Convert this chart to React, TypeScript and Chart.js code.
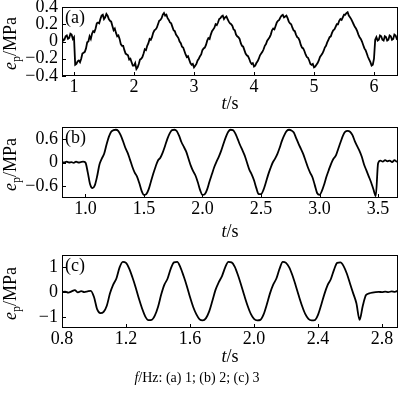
import React, { useEffect, useRef } from "react";
import { Chart, registerables } from "chart.js";
Chart.register(...registerables);

const FONT = '"Liberation Serif", "Times New Roman", serif';

// ---------- Panel (a): f = 1 Hz ----------
const A_START = 0.8;
const A_STEP = 0.02;
const A_VALUES = [
  0.05, 0.01, 0.02, 0.06, 0.07, 0.03, 0.04, 0.09, 0.08, 0.03,
  0.05, -0.27, -0.26, -0.23, -0.22, -0.24, -0.2, -0.14, -0.13, -0.12,
  -0.08, -0.01, 0.0, 0.06, 0.03, 0.09, 0.12, 0.11, 0.15, 0.21,
  0.22, 0.21, 0.26, 0.3, 0.31, 0.26, 0.28, 0.32, 0.3, 0.26,
  0.24, 0.23, 0.18, 0.13, 0.15, 0.1, 0.06, 0.07, 0.03, -0.03,
  -0.05, -0.05, -0.1, -0.14, -0.15, -0.16, -0.21, -0.2, -0.24, -0.28,
  -0.28, -0.25, -0.32, -0.3, -0.26, -0.21, -0.2, -0.18, -0.14, -0.09,
  -0.1, -0.05, -0.02, 0.03, 0.02, 0.05, 0.1, 0.13, 0.14, 0.16,
  0.2, 0.24, 0.25, 0.27, 0.31, 0.33, 0.3, 0.31, 0.27, 0.25,
  0.22, 0.21, 0.17, 0.13, 0.12, 0.08, 0.06, 0.04, 0.0, -0.02,
  -0.06, -0.07, -0.11, -0.15, -0.18, -0.17, -0.21, -0.25, -0.27, -0.26,
  -0.3, -0.28, -0.26, -0.22, -0.2, -0.17, -0.15, -0.1, -0.08, -0.07,
  -0.04, 0.01, 0.04, 0.03, 0.08, 0.12, 0.14, 0.16, 0.2, 0.19,
  0.22, 0.26, 0.27, 0.29, 0.3, 0.26, 0.28, 0.29, 0.26, 0.23,
  0.21, 0.2, 0.18, 0.14, 0.13, 0.08, 0.06, 0.05, 0.03, -0.02,
  -0.05, -0.06, -0.1, -0.14, -0.16, -0.17, -0.2, -0.24, -0.26, -0.25,
  -0.29, -0.28, -0.25, -0.23, -0.2, -0.16, -0.14, -0.12, -0.09, -0.05,
  -0.03, 0.01, 0.03, 0.05, 0.08, 0.13, 0.15, 0.14, 0.18, 0.22,
  0.24, 0.25, 0.28, 0.3, 0.31, 0.28, 0.29, 0.3, 0.27, 0.23,
  0.21, 0.2, 0.16, 0.13, 0.12, 0.08, 0.05, 0.04, 0.01, -0.04,
  -0.07, -0.08, -0.11, -0.15, -0.18, -0.19, -0.22, -0.26, -0.27, -0.26,
  -0.3, -0.29, -0.27, -0.25, -0.22, -0.18, -0.16, -0.14, -0.11, -0.07,
  -0.05, -0.01, 0.02, 0.05, 0.06, 0.1, 0.13, 0.14, 0.17, 0.2,
  0.2, 0.24, 0.26, 0.25, 0.28, 0.31, 0.31, 0.33, 0.34, 0.3,
  0.28, 0.26, 0.23, 0.2, 0.17, 0.15, 0.12, 0.08, 0.05, 0.03,
  0.0, -0.04, -0.08, -0.1, -0.14, -0.18, -0.21, -0.24, -0.28, -0.27,
  -0.2, 0.02, 0.05, 0.01, 0.02, 0.07, 0.06, 0.02, 0.01, 0.06,
  0.05, 0.01, 0.02, 0.07, 0.06, 0.02, 0.03, 0.08, 0.07, 0.03,
  0.04,
];
const A_X_TICKS = [1, 2, 3, 4, 5, 6];
const A_X_LABELS = ["1", "2", "3", "4", "5", "6"];
const A_Y_TICKS = [-0.4, -0.2, 0, 0.2, 0.4];
const A_Y_LABELS = ["\u22120.4", "\u22120.2", "0", "0.2", "0.4"];

// ---------- Panel (b): f = 2 Hz ----------
const B_START = 0.8;
const B_STEP = 0.02;
const B_VALUES = [
  0.01, 0.0, 0.02, 0.0, 0.01, -0.01, 0.02, 0.0, 0.01, 0.02,
  0.0, -0.25, -0.55, -0.65, -0.58, -0.35, -0.05, 0.1, 0.22, 0.45,
  0.65, 0.78, 0.82, 0.83, 0.8, 0.7, 0.55, 0.38, 0.25, 0.08,
  -0.1, -0.25, -0.35, -0.52, -0.72, -0.82, -0.8, -0.68, -0.48, -0.28,
  -0.1, 0.05, 0.12, 0.25, 0.42, 0.6, 0.74, 0.82, 0.83, 0.8,
  0.68, 0.52, 0.4, 0.28, 0.1, -0.08, -0.22, -0.33, -0.5, -0.7,
  -0.82, -0.8, -0.68, -0.48, -0.3, -0.12, 0.02, 0.15, 0.3, 0.48,
  0.65, 0.78, 0.83, 0.82, 0.74, 0.6, 0.45, 0.32, 0.18, 0.0,
  -0.18, -0.3, -0.45, -0.65, -0.8, -0.8, -0.7, -0.52, -0.32, -0.15,
  0.0, 0.1, 0.22, 0.38, 0.56, 0.7, 0.8, 0.83, 0.81, 0.76,
  0.62, 0.48, 0.35, 0.22, 0.05, -0.12, -0.26, -0.38, -0.58, -0.78,
  -0.82, -0.72, -0.55, -0.35, -0.18, -0.02, 0.1, 0.18, 0.35, 0.52,
  0.68, 0.78, 0.8, 0.78, 0.7, 0.55, 0.42, 0.3, 0.15, -0.05,
  -0.2, -0.35, -0.5, -0.68, -0.85, -0.02, 0.05, 0.02, 0.06, 0.03,
  0.05, 0.01, 0.06, 0.02, 0.05, 0.03,
];
const B_X_TICKS = [1.0, 1.5, 2.0, 2.5, 3.0, 3.5];
const B_X_LABELS = ["1.0", "1.5", "2.0", "2.5", "3.0", "3.5"];
const B_Y_TICKS = [-0.6, 0, 0.6];
const B_Y_LABELS = ["\u22120.6", "0", "0.6"];

// ---------- Panel (c): f = 3 Hz ----------
const C_START = 0.8;
const C_STEP = 0.02;
const C_VALUES = [
  0.0, 0.02, -0.02, 0.03, 0.08, -0.01, 0.04, 0.0, 0.03, 0.05,
  -0.2, -0.7, -0.85, -0.8, -0.55, -0.05, 0.3, 0.55, 1.0, 1.22,
  1.18, 0.95, 0.6, 0.2, -0.25, -0.65, -0.98, -1.13, -1.12, -0.95,
  -0.6, -0.1, 0.3, 0.55, 0.95, 1.2, 1.22, 1.0, 0.65, 0.25,
  -0.2, -0.6, -0.9, -1.1, -1.14, -1.05, -0.78, -0.35, 0.1, 0.4,
  0.65, 1.0, 1.22, 1.2, 1.02, 0.68, 0.28, -0.15, -0.55, -0.88,
  -1.08, -1.14, -1.12, -0.9, -0.5, -0.05, 0.3, 0.55, 0.95, 1.22,
  1.18, 1.0, 0.68, 0.28, -0.15, -0.55, -0.88, -1.08, -1.14, -1.13,
  -0.92, -0.52, -0.08, 0.28, 0.52, 0.9, 1.18, 1.2, 1.05, 0.75,
  0.35, -0.05, -0.45, -1.12, -0.55, -0.12, -0.05, -0.02, 0.0, 0.01,
  0.0, 0.02, 0.0, 0.03, 0.01, 0.06,
];
const C_X_TICKS = [0.8, 1.2, 1.6, 2.0, 2.4, 2.8];
const C_X_LABELS = ["0.8", "1.2", "1.6", "2.0", "2.4", "2.8"];
const C_Y_TICKS = [-1, 0, 1];
const C_Y_LABELS = ["\u22121", "0", "1"];

const CAPTION_VAR = "f";
const CAPTION_REST = "/Hz: (a) 1; (b) 2; (c) 3";

type PanelProps = {
  top: number;
  height: number;
  plotTop: number;
  plotBottom: number;
  start: number;
  step: number;
  values: number[];
  xMin: number;
  xMax: number;
  yMin: number;
  yMax: number;
  xTicks: number[];
  xLabels: string[];
  yTicks: number[];
  yLabels: string[];
  tag: string;
  xTitleGap: number;
  smooth: boolean;
  caption?: boolean;
};

function Panel(p: PanelProps) {
  const ref = useRef<HTMLCanvasElement>(null);
  useEffect(() => {
    const data = p.values.map((v, i) => ({ x: p.start + i * p.step, y: v }));
    const deco = {
      id: "deco",
      afterDraw(chart: any) {
        const { ctx, chartArea: a, scales } = chart;
        ctx.save();
        ctx.strokeStyle = "#000";
        ctx.lineWidth = 1;
        ctx.strokeRect(a.left + 0.5, a.top + 0.5, a.right - a.left - 1, a.bottom - a.top - 1);
        ctx.beginPath();
        p.xTicks.forEach((v) => {
          const px = Math.round(scales.x.getPixelForValue(v)) + 0.5;
          ctx.moveTo(px, a.bottom);
          ctx.lineTo(px, a.bottom - 4);
        });
        p.yTicks.forEach((v) => {
          const py = Math.round(scales.y.getPixelForValue(v)) + 0.5;
          ctx.moveTo(a.left, py);
          ctx.lineTo(a.left + 4, py);
        });
        ctx.stroke();
        ctx.fillStyle = "#000";
        // panel tag
        ctx.font = `18px ${FONT}`;
        ctx.textBaseline = "top";
        ctx.textAlign = "left";
        ctx.fillText(p.tag, a.left + 3, a.top + 2);
        // y title: e_p/MPa
        ctx.textBaseline = "alphabetic";
        const f1 = `italic 18px ${FONT}`;
        const f2 = `12px ${FONT}`;
        const f3 = `18px ${FONT}`;
        ctx.font = f1;
        const w1 = ctx.measureText("e").width;
        ctx.font = f2;
        const w2 = ctx.measureText("p").width;
        ctx.font = f3;
        const w3 = ctx.measureText("/MPa").width;
        const tot = w1 + w2 + w3;
        ctx.save();
        ctx.translate(16, (a.top + a.bottom) / 2 + 2);
        ctx.rotate(-Math.PI / 2);
        let x = -tot / 2;
        ctx.font = f1;
        ctx.fillText("e", x, 0);
        x += w1;
        ctx.font = f2;
        ctx.fillText("p", x, 4);
        x += w2;
        ctx.font = f3;
        ctx.fillText("/MPa", x, 0);
        ctx.restore();
        // x title: t/s
        ctx.font = f1;
        const tw1 = ctx.measureText("t").width;
        ctx.font = f3;
        const tw2 = ctx.measureText("/s").width;
        const cx = (a.left + a.right) / 2 - (tw1 + tw2) / 2;
        const by = a.bottom + p.xTitleGap;
        ctx.font = f1;
        ctx.fillText("t", cx, by);
        ctx.font = f3;
        ctx.fillText("/s", cx + tw1, by);
        if (p.caption) {
          const g1 = `italic 14px ${FONT}`;
          const g2 = `14px ${FONT}`;
          ctx.font = g1;
          const cw1 = ctx.measureText(CAPTION_VAR).width;
          ctx.font = g2;
          const cw2 = ctx.measureText(CAPTION_REST).width;
          const sx = 197 - (cw1 + cw2) / 2;
          ctx.font = g1;
          ctx.fillText(CAPTION_VAR, sx, 137);
          ctx.font = g2;
          ctx.fillText(CAPTION_REST, sx + cw1, 137);
        }
        ctx.restore();
      },
    };
    const chart = new Chart(ref.current as HTMLCanvasElement, {
      type: "line",
      data: {
        datasets: [
          {
            data,
            borderColor: "#000",
            borderWidth: 1.8,
            pointRadius: 0,
            fill: false,
            tension: p.smooth ? 0.4 : 0,
            cubicInterpolationMode: p.smooth ? "monotone" : "default",
          } as any,
        ],
      },
      options: {
        animation: false,
        responsive: false,
        maintainAspectRatio: false,
        layout: { padding: { left: 0, right: 2, top: p.plotTop, bottom: 0 } },
        plugins: { legend: { display: false }, tooltip: { enabled: false } },
        scales: {
          x: {
            type: "linear",
            min: p.xMin,
            max: p.xMax,
            grid: { display: false, drawTicks: false },
            border: { display: false },
            afterBuildTicks: (s: any) => {
              s.ticks = p.xTicks.map((v) => ({ value: v }));
            },
            afterFit: (s: any) => {
              s.height = p.height - p.plotBottom;
              s.paddingLeft = 0;
              s.paddingRight = 0;
            },
            ticks: {
              callback: (_v: any, i: number) => p.xLabels[i],
              font: { family: FONT, size: 18 },
              color: "#000",
              padding: 0,
              maxRotation: 0,
              autoSkip: false,
            },
          },
          y: {
            type: "linear",
            min: p.yMin,
            max: p.yMax,
            grid: { display: false, drawTicks: false },
            border: { display: false },
            afterBuildTicks: (s: any) => {
              s.ticks = p.yTicks.map((v) => ({ value: v }));
            },
            afterFit: (s: any) => {
              s.width = 62;
              s.paddingTop = 0;
              s.paddingBottom = 0;
            },
            ticks: {
              callback: (_v: any, i: number) => p.yLabels[i],
              font: { family: FONT, size: 18 },
              color: "#000",
              padding: 4,
              autoSkip: false,
            },
          },
        },
      } as any,
      plugins: [deco],
    });
    return () => chart.destroy();
  }, []);
  return (
    <canvas
      ref={ref}
      width={400}
      height={p.height}
      style={{ position: "absolute", left: 0, top: p.top, width: 400, height: p.height }}
    />
  );
}

export default function App() {
  return (
    <div style={{ position: "absolute", left: 0, top: 0, width: 400, height: 393, background: "#fff" }}>
      <Panel
        top={0} height={115} plotTop={7} plotBottom={76}
        start={A_START} step={A_STEP} values={A_VALUES}
        xMin={0.8} xMax={6.4} yMin={-0.4} yMax={0.4}
        xTicks={A_X_TICKS} xLabels={A_X_LABELS} yTicks={A_Y_TICKS} yLabels={A_Y_LABELS}
        tag="(a)" xTitleGap={33} smooth={false}
      />
      <Panel
        top={115} height={130} plotTop={12} plotBottom={83}
        start={B_START} step={B_STEP} values={B_VALUES}
        xMin={0.8} xMax={3.67} yMin={-0.9} yMax={0.9}
        xTicks={B_X_TICKS} xLabels={B_X_LABELS} yTicks={B_Y_TICKS} yLabels={B_Y_LABELS}
        tag="(b)" xTitleGap={39} smooth={true}
      />
      <Panel
        top={245} height={148} plotTop={10} plotBottom={83}
        start={C_START} step={C_STEP} values={C_VALUES}
        xMin={0.8} xMax={2.9} yMin={-1.45} yMax={1.5}
        xTicks={C_X_TICKS} xLabels={C_X_LABELS} yTicks={C_Y_TICKS} yLabels={C_Y_LABELS}
        tag="(c)" xTitleGap={34} smooth={true} caption={true}
      />
    </div>
  );
}
